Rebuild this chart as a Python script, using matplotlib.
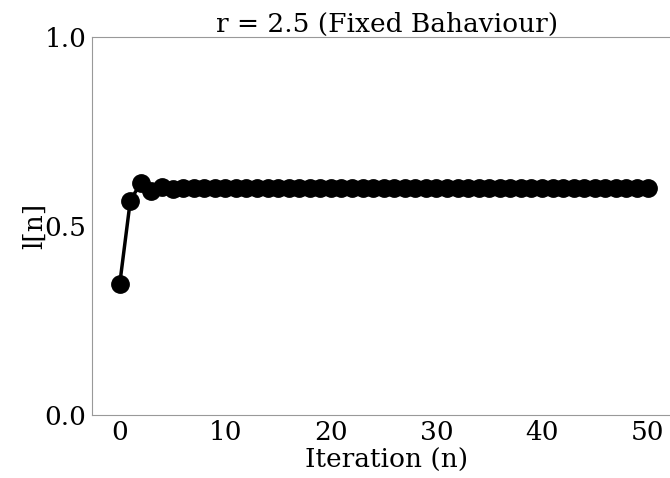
import matplotlib
matplotlib.use('Agg')
import matplotlib.pyplot as plt

iterations = list(range(51))
values = [0.347, 0.567, 0.614, 0.593, 0.604, 0.598, 0.601, 0.600, 0.600, 0.600] + [0.600] * 41

plt.rcParams['font.family'] = 'DejaVu Serif'

fig = plt.figure(figsize=(6.7, 4.78), dpi=100)
ax = fig.add_axes([0.137, 0.132, 0.88, 0.791])
ax.plot(iterations, values, color='black', marker='o', markersize=12.5, linewidth=2.5)
ax.set_ylim(0, 1)
ax.set_xlim(-2.65, 53.2)
ax.set_yticks([0.0, 0.5, 1.0])
ax.set_xticks([0, 10, 20, 30, 40, 50])
ax.tick_params(labelsize=19, length=0, pad=4)
for s in ax.spines.values():
    s.set_color('#999999')
ax.spines['right'].set_visible(False)
ax.set_title('r = 2.5 (Fixed Bahaviour)', fontsize=19, pad=2)
ax.set_xlabel('Iteration (n)', fontsize=19, labelpad=2)
ax.set_ylabel('l[n]', fontsize=19, labelpad=-2)
fig.savefig('out.png', dpi=100)
